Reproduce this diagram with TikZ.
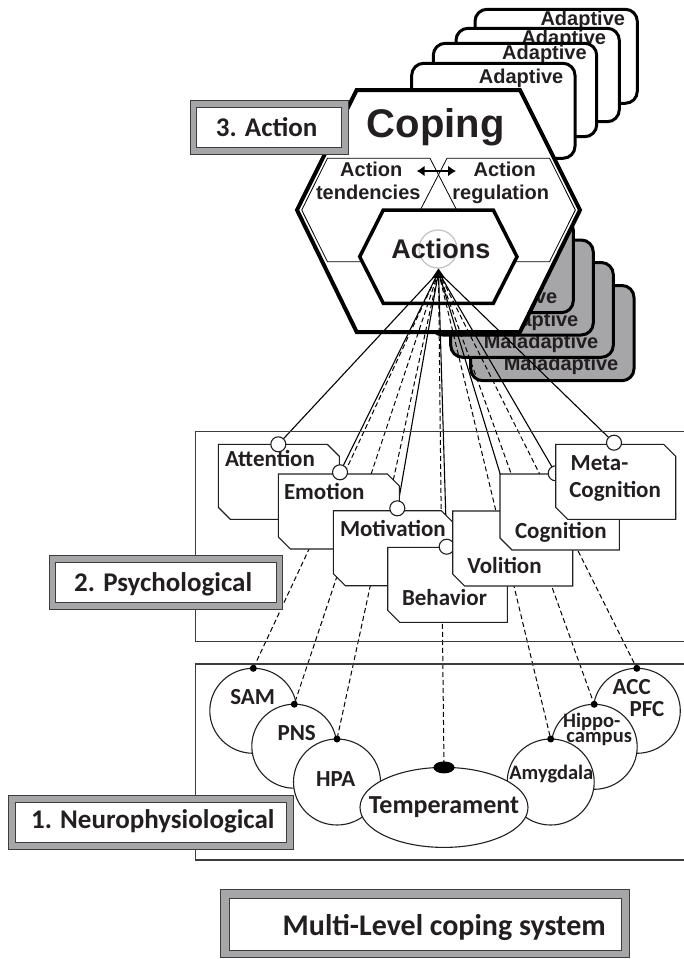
\documentclass[tikz,border=0pt]{standalone}
\usepackage{fontspec}
\setmainfont{Carlito}
\newfontfamily\arialfont{Liberation Sans}
\usetikzlibrary{shapes.geometric,arrows.meta}
\definecolor{boxgray}{RGB}{166,166,168}
\definecolor{ink}{RGB}{35,31,32}
\definecolor{framec}{RGB}{60,60,60}
\pgfdeclarelayer{back}
\pgfdeclarelayer{mid}
\pgfsetlayers{back,mid,main}
\newcommand\mypsycard[4]{% l t r b
  \draw[psycard] (#1,#2) -- ({#3-12},#2) -- (#3,{#2+12}) -- (#3,#4) -- ({#1+12},#4) -- (#1,{#4-12}) -- cycle;}
\tikzset{
  txt/.style={inner sep=0pt, outer sep=0pt, text=ink},
  cal/.style={txt, font=\fontsize{#1}{#1}\selectfont\bfseries},
  ari/.style={txt, font=\arialfont\fontsize{#1}{#1}\selectfont\bfseries},
  adcard/.style={draw=black, line width=3pt, fill=white, rounded corners=12pt},
  malcard/.style={draw=black, line width=3pt, fill=boxgray, rounded corners=12pt},
  psycard/.style={draw=ink, line width=1.1pt, fill=white},
  pcirc/.style={circle, draw=ink, line width=1.1pt, fill=white, minimum size=15pt, inner sep=0pt, outer sep=0pt},
  neuro/.style={ellipse, draw=ink, line width=1.1pt, fill=white, inner sep=0pt, outer sep=0pt},
  ndot/.style={circle, fill=black, minimum size=7pt, inner sep=0pt, outer sep=0pt},
  conn/.style={draw=black, line width=1.1pt},
  dconn/.style={draw=black, line width=1pt, dash pattern=on 5pt off 3pt},
  outerbox/.style={draw=framec, line width=1pt, fill=boxgray},
  innerbox/.style={draw=framec, line width=1pt, fill=white},
  sectionline/.style={draw=framec, line width=1.1pt},
}
\begin{document}
\begin{tikzpicture}[x=1pt,y=-1pt]
\useasboundingbox (0,0) rectangle (684,959);

% ---------------- back layer: cards and hexagon ----------------
\begin{pgfonlayer}{back}
% adaptive cards
\draw[adcard] (475,9.3) rectangle (637.3,103.3);
\node[ari=20, anchor=base east] (ad1) at (625,25) {Adaptive};
\draw[adcard] (456,28.3) rectangle (619.3,121.7);
\node[ari=20, anchor=base east] (ad2) at (606,44) {Adaptive};
\draw[adcard] (433.3,43.3) rectangle (596.7,136.7);
\node[ari=20, anchor=base east] (ad3) at (586.7,59.3) {Adaptive};
\draw[adcard] (411.7,63.3) rectangle (575,158.3);
\node[ari=20, anchor=base east] (ad4) at (563.3,83.3) {Adaptive};
% maladaptive cards
\draw[malcard] (470.7,285.5) rectangle (634,380.7);
\node[ari=20, anchor=base east] (mal4) at (618.3,370) {Maladaptive};
\draw[malcard] (450.7,262.5) rectangle (613.3,357.3);
\node[ari=20, anchor=base east] (mal3) at (598.3,348.3) {Maladaptive};
\draw[malcard] (430.7,240) rectangle (593.3,335);
\node[ari=20, anchor=base east] (mal2) at (578.3,326) {Maladaptive};
\draw[malcard] (410.7,218) rectangle (573.3,312.7);
\node[ari=20, anchor=base east] (mal1) at (557.3,303.3) {Maladaptive};
% outer hexagon
\draw[line width=4pt, fill=white] (356.7,90) -- (520,90) -- (580,210) -- (520,332) -- (356.7,332) -- (297,210) -- cycle;
% thin inner hexagons
\draw[line width=0.8pt] (327.5,158.3) -- (430,158.3) -- (456.7,210) -- (430,261.7) -- (327.5,261.7) -- (301.7,210) -- cycle;
\draw[line width=0.8pt] (447,158.3) -- (549.5,158.3) -- (575.3,210) -- (549.5,261.7) -- (447,261.7) -- (420.3,210) -- cycle;
% actions hexagon
\draw[line width=3.5pt, fill=white] (383.3,210) -- (493.3,210) -- (517,256.7) -- (493.3,303.3) -- (383.3,303.3) -- (359.7,256.7) -- cycle;
\draw[gray!45, line width=1.3pt] (438,249) circle (19pt);
\node[ari=40, anchor=base] (coping) at (435.8,137.3) {Coping};
\node[ari=27, anchor=base] (actions) at (440.8,258.3) {Actions};
\node[ari=20, anchor=base] (at1) at (371.3,176) {Action};
\node[ari=20, anchor=base] (at2) at (368.3,199.3) {tendencies};
\node[ari=20, anchor=base] (ar1) at (504.7,176) {Action};
\node[ari=20, anchor=base] (ar2) at (500.8,199.3) {regulation};
\coordinate (arrL) at (416.7,171);
\coordinate (arrR) at (456,171);
\draw[line width=2.5pt, {Latex[length=8pt,width=11pt]}-{Latex[length=8pt,width=11pt]}] (arrL) -- (arrR);
\end{pgfonlayer}

% ---------------- sections ----------------
\draw[sectionline] (684,431.7) -- (195.7,431.7) -- (195.7,641.7) -- (684,641.7);
\draw[sectionline] (684,664) -- (195.7,664) -- (195.7,860) -- (684,860);

% ---------------- psychological cards ----------------
\mypsycard{218.3}{444.3}{339.3}{519.3}
\node[pcirc] (cAtt) at (278.3,444.3) {};
\node[cal=23, anchor=base west] (tAtt) at (225,466.7) {Attention};
\mypsycard{278.3}{474}{399.3}{549}
\node[pcirc] (cEmo) at (340,472.3) {};
\node[cal=23, anchor=base west] (tEmo) at (284,499.3) {Emotion};
\mypsycard{333.3}{510.7}{453.3}{585.7}
\node[pcirc] (cMot) at (397.3,508.3) {};
\node[cal=23, anchor=base west] (tMot) at (340,536.7) {Motivation};
\mypsycard{387.7}{547.3}{507.3}{622.3}
\node[pcirc] (cBeh) at (446.7,546.7) {};
\node[cal=23, anchor=base west] (tBeh) at (402,605) {Behavior};
\mypsycard{452.7}{511}{572.7}{586}
\node[pcirc] (cVol) at (511.5,511) {};
\node[cal=23, anchor=base west] (tVol) at (467.3,573.3) {Volition};
\mypsycard{500}{474}{619.3}{550}
\node[pcirc] (cCog) at (555.7,473.3) {};
\node[cal=23, anchor=base west] (tCog) at (515,538.3) {Cognition};
\mypsycard{555.7}{444.3}{675.7}{519.3}
\node[pcirc] (cMeta) at (614,442.7) {};
\node[cal=23, anchor=base west] (tMeta1) at (570.7,470.7) {Meta-};
\node[cal=23, anchor=base west] (tMeta2) at (569.3,497.7) {Cognition};

% ---------------- neurophysiological ellipses ----------------
\node[neuro, minimum width=87pt, minimum height=85pt] (sam) at (253.3,710.8) {};
\node[neuro, minimum width=85pt, minimum height=84pt] (pns) at (294.3,746.2) {};
\node[neuro, minimum width=87pt, minimum height=86pt] (hpa) at (337,782) {};
\node[neuro, minimum width=87pt, minimum height=85pt] (acc) at (636.8,710.8) {};
\node[neuro, minimum width=86pt, minimum height=85pt] (hip) at (594.2,746.8) {};
\node[neuro, minimum width=87pt, minimum height=86pt] (amy) at (550.7,782) {};
\node[neuro, minimum width=168pt, minimum height=80pt] (tem) at (444,807.4) {};
\node[ndot] (dSam) at (sam.north) {};
\node[ndot] (dPns) at (pns.north) {};
\node[ndot] (dHpa) at (hpa.north) {};
\node[ndot] (dAcc) at (acc.north) {};
\node[ndot] (dHip) at (hip.north) {};
\node[ndot] (dAmy) at (amy.north) {};
\node[ellipse, fill=black, minimum width=21pt, minimum height=12pt, inner sep=0pt] (dTem) at (tem.north) {};
\node[cal=23, anchor=base] (tSam) at (252.7,704) {SAM};
\node[cal=23, anchor=base] (tPns) at (296.7,740.7) {PNS};
\node[cal=23, anchor=base] (tHpa) at (335.7,786) {HPA};
\node[cal=26, anchor=base] (tTem) at (444,813.3) {Temperament};
\node[cal=20.5, anchor=base] (tAmy) at (551.3,779.3) {Amygdala};
\node[cal=20.5, anchor=base] (tHip1) at (591.7,727.5) {Hippo-};
\node[cal=20.5, anchor=base] (tHip2) at (599.2,742.5) {campus};
\node[cal=23, anchor=base] (tAcc) at (631.7,694.3) {ACC};
\node[cal=23, anchor=base] (tPfc) at (647,716.7) {PFC};

% ---------------- connectors ----------------
\begin{pgfonlayer}{mid}
\coordinate (apex) at (438.5,272);
\draw[conn] (apex) -- (cAtt);
\draw[conn] (apex) -- (cEmo);
\draw[conn] (apex) -- (cMot);
\draw[conn] (apex) -- (cBeh);
\draw[conn] (apex) -- (cVol);
\draw[conn] (apex) -- (cCog);
\draw[conn] (apex) -- (cMeta);
\draw[dconn] (apex) -- (dSam.center);
\draw[dconn] (apex) -- (dPns.center);
\draw[dconn] (apex) -- (dHpa.center);
\draw[dconn] (apex) -- (dTem.center);
\draw[dconn] (apex) -- (dAmy.center);
\draw[dconn] (apex) -- (dHip.center);
\draw[dconn] (apex) -- (dAcc.center);
\fill (438.5,268.5) -- (445,278) -- (432,278) -- cycle;
\end{pgfonlayer}

% ---------------- level label boxes ----------------
\draw[outerbox] (190,100) rectangle (348.3,154.3);
\draw[innerbox] (196,107.3) rectangle (341.7,147.7);
\node[cal=27, anchor=base] (lvl3) at (266.7,136) {3. Action};

\draw[outerbox] (49.3,555.7) rectangle (282.7,609.3);
\draw[innerbox] (55.5,562.7) rectangle (276.5,602.7);
\node[cal=27, anchor=base] (lvl2) at (163.2,591.7) {2. Psychological};

\draw[outerbox] (8.3,795.7) rectangle (293.3,849.3);
\draw[innerbox] (15,802.7) rectangle (286.7,842.7);
\node[cal=27, anchor=base] (lvl1) at (152.8,828.3) {1. Neurophysiological};

\draw[outerbox] (220.7,889.3) rectangle (629,957.5);
\draw[innerbox] (229.3,898.3) rectangle (621,950.5);
\node[cal=30, anchor=base] (title) at (444.2,935.7) {Multi-Level coping system};
\end{tikzpicture}
\end{document}
